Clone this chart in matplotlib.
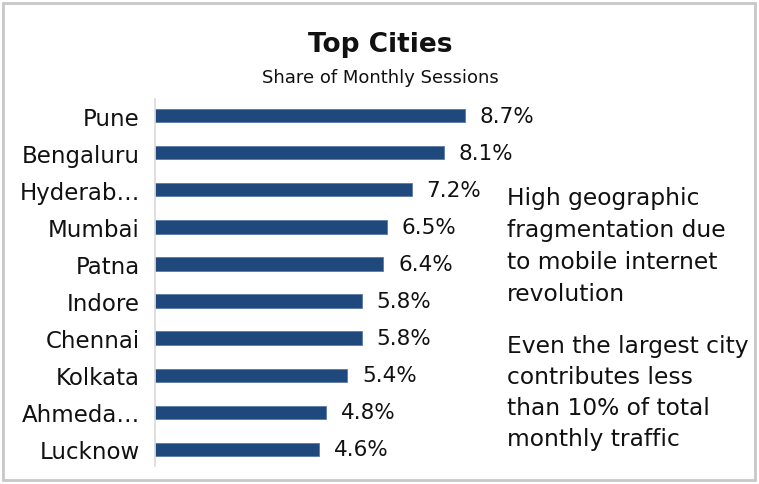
import matplotlib
matplotlib.use("Agg")
import matplotlib.pyplot as plt
from matplotlib.patches import Rectangle

cities = ["Pune", "Bengaluru", "Hyderab…", "Mumbai", "Patna", "Indore",
          "Chennai", "Kolkata", "Ahmeda…", "Lucknow"]
shares = [8.7, 8.1, 7.2, 6.5, 6.4, 5.8, 5.8, 5.4, 4.8, 4.6]
title = "Top Cities"
subtitle = "Share of Monthly Sessions"
note1 = "High geographic\nfragmentation due\nto mobile internet\nrevolution"
note2 = "Even the largest city\ncontributes less\nthan 10% of total\nmonthly traffic"

plt.rcParams['font.family'] = ['DejaVu Sans']
W, H = 759, 485
fig = plt.figure(figsize=(W/100, H/100), dpi=100)

# border
fig.patches.append(Rectangle((3/W, 4/H), 752/W, 477/H, transform=fig.transFigure,
                             fill=False, edgecolor="#c8c8c8", linewidth=2))

ax_left, ax_right = 155, 505
ax_top, ax_bot = 100, 467
ax = fig.add_axes([ax_left/W, 1-ax_bot/H, (ax_right-ax_left)/W, (ax_bot-ax_top)/H])
ypos = list(range(len(cities)))
ax.barh(ypos, shares, height=0.36, color="#1F497D", edgecolor="#5a7aa8", linewidth=0.6)
ax.set_ylim(len(cities)-0.55, -0.45)
ax.set_xlim(0, 8.7*(ax_right-ax_left)/310)
for y, v in zip(ypos, shares):
    ax.text(v + 0.42, y, f"{v}%", va="center", ha="left", fontsize=15.5, color="#111111")
ax.set_yticks(ypos)
ax.set_yticklabels(cities, fontsize=16.5, color="#111111")
ax.tick_params(axis="y", length=0, pad=11)
ax.set_xticks([])
for s in ["top", "right", "bottom"]:
    ax.spines[s].set_visible(False)
ax.spines["left"].set_color("#d9d9d9")
ax.spines["left"].set_linewidth(1.2)
ax.patch.set_alpha(0)

fig.text(380/W, 1-45/H, title, ha="center", va="center", fontsize=19, fontweight="bold", color="#111111")
fig.text(380/W, 1-78/H, subtitle, ha="center", va="center", fontsize=13, color="#111111")
fig.text(507/W, 1-247/H, note1, ha="left", va="center", fontsize=16.8, color="#111111", linespacing=1.5)
fig.text(507/W, 1-393/H, note2, ha="left", va="center", fontsize=16.8, color="#111111", linespacing=1.44)

fig.savefig("out.png", dpi=100, facecolor="white")
